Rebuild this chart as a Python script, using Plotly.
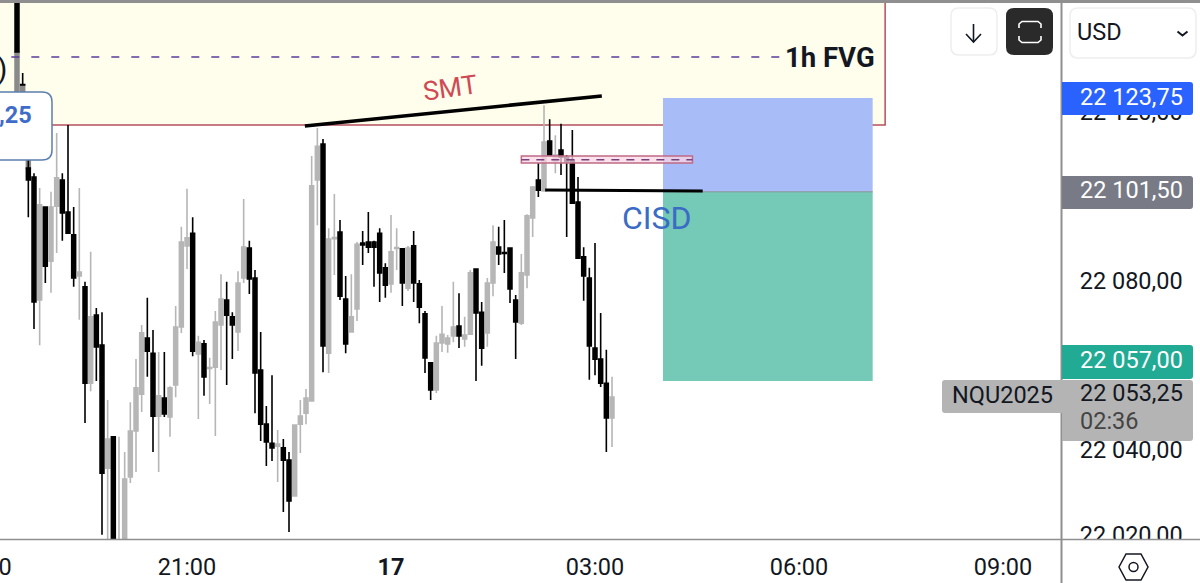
import pandas as pd
import plotly.graph_objects as go

W, H = 1200, 583
FONT = "Roboto"
BLACK = "#000000"
GRAY = "#b6b6b6"

# 5-minute candles, from 18:40 on 16 July to 03:15 on 17 July
times = pd.date_range("2025-07-16 18:40", periods=104, freq="5min")
opens = [22106.7,22104.6,22075.5,22097.5,22084.7,22097.7,22103.9,22096.3,22090.9,22081.2,
22078.6,22055.8,22071.9,22064.8,22035.7,22043.1,22014.0,22014.0,22033.6,22044.5,
22053.2,22066.5,22062.9,22048.0,22052.3,22047.8,22055.4,22069.1,22088.3,22091.3,
22062.7,22065.1,22059.3,22059.6,22069.6,22075.5,22071.5,22067.9,22080.7,22087.8,
22080.7,22058.9,22046.1,22041.6,22040.9,22040.5,22037.6,22029.1,22046.1,22048.7,
22051.6,22103.9,22112.4,22062.9,22090.0,22091.6,22075.7,22067.9,22073.4,22089.0,
22089.2,22089.2,22091.3,22083.1,22079.3,22087.7,22087.6,22078.3,22088.3,22079.3,
22072.2,22060.6,22054.2,22065.3,22065.1,22067.0,22069.3,22066.3,22067.4,22082.8,
22072.6,22067.7,22079.5,22088.0,22086.7,22087.8,22075.5,22070.0,22081.4,22094.9,
22103.9,22101.3,22113.1,22108.2,22111.0,22109.3,22108.6,22098.7,22085.7,22080.7,
22064.1,22061.5,22055.8,22047.6]
highs = [22108.6,22105.5,22102.0,22097.5,22101.1,22115.0,22105.5,22116.9,22097.5,22102.0,
22079.8,22086.9,22073.6,22072.6,22051.8,22043.1,22043.1,22039.5,22051.3,22061.5,
22069.6,22076.0,22068.4,22063.2,22063.2,22055.1,22074.1,22092.8,22101.8,22095.1,
22067.0,22066.0,22061.8,22072.9,22081.6,22079.8,22072.6,22082.3,22099.4,22089.5,
22082.6,22067.9,22050.4,22057.7,22044.7,22042.6,22039.5,22045.9,22051.8,22054.4,
22109.6,22116.2,22113.6,22092.5,22100.6,22094.4,22081.2,22081.6,22089.2,22091.8,
22096.3,22089.5,22092.5,22084.2,22095.6,22092.5,22087.6,22088.3,22091.8,22080.2,
22072.9,22060.6,22067.0,22074.1,22067.2,22079.8,22077.1,22071.5,22082.6,22082.8,
22075.0,22080.7,22093.2,22092.8,22094.4,22088.0,22076.7,22086.4,22095.8,22102.5,
22107.9,22121.6,22118.3,22114.5,22117.2,22109.8,22115.7,22104.6,22088.0,22083.1,
22089.0,22072.4,22063.7,22057.3]
lows = [22095.1,22068.6,22064.8,22079.5,22077.2,22086.6,22089.5,22091.3,22078.6,22070.8,
22046.4,22053.9,22056.3,22019.9,22017.5,22011.6,22011.6,22011.6,22032.2,22034.8,
22049.0,22057.3,22039.5,22034.8,22047.8,22043.1,22052.5,22067.7,22082.8,22062.2,
22047.3,22052.8,22050.9,22043.3,22058.9,22055.4,22061.5,22063.4,22079.5,22076.9,
22048.7,22042.1,22036.2,22037.4,22032.4,22025.3,22020.6,22029.1,22039.3,22046.1,
22051.6,22093.2,22058.4,22058.2,22081.4,22075.5,22062.9,22067.9,22070.5,22083.8,
22086.6,22078.6,22075.0,22076.0,22077.2,22082.6,22074.1,22077.6,22075.0,22070.0,
22058.2,22051.8,22053.5,22063.2,22063.0,22065.5,22064.1,22064.4,22067.4,22056.3,
22059.9,22064.4,22076.4,22083.8,22081.9,22074.8,22061.5,22069.6,22078.3,22090.4,
22099.9,22101.3,22109.8,22105.5,22105.1,22090.4,22098.2,22085.4,22075.3,22056.6,
22057.7,22054.9,22039.5,22040.7]
closes = [22103.9,22075.0,22098.0,22083.5,22097.5,22104.4,22096.1,22091.3,22080.7,22082.1,
22055.8,22071.5,22064.4,22034.5,22042.6,22014.0,22017.5,22033.1,22044.5,22054.7,
22067.7,22063.4,22048.0,22052.8,22048.5,22054.7,22069.1,22089.2,22090.2,22063.4,
22065.5,22057.3,22059.5,22070.3,22075.7,22071.9,22069.6,22079.5,22088.0,22080.5,
22058.2,22046.1,22041.9,22040.5,22041.4,22037.6,22027.9,22045.9,22048.0,22052.3,
22102.5,22111.9,22064.6,22089.9,22090.3,22076.4,22065.1,22071.5,22088.7,22088.5,
22088.0,22088.0,22081.9,22079.0,22086.9,22087.9,22079.5,22087.8,22079.5,22073.8,
22061.8,22054.2,22065.3,22067.4,22066.5,22069.1,22067.0,22067.2,22081.9,22072.4,
22064.1,22079.5,22089.2,22086.4,22086.5,22078.1,22070.3,22081.9,22095.4,22102.2,
22101.5,22112.9,22109.8,22109.8,22109.3,22108.2,22098.4,22085.4,22081.2,22064.6,
22061.5,22055.8,22047.6,22052.5]

# candles at the far left, mostly hidden by the price label
early_times = ["2025-07-16 18:30", "2025-07-16 18:35", "2025-07-16 18:40"]
early_open = [22116.9, 22118.1, 22106.7]
early_high = [22134.2, 22126.4, 22113.4]
early_low = [22116.9, 22118.1, 22106.7]
early_close = [22134.2, 22126.4, 22113.4]
spike_times = ["2025-07-16 18:30", "2025-07-16 18:35"]
spike_open = [22160.0, 22126.5]
spike_high = [22160.0, 22129.2]
spike_low = [22134.2, 22126.4]
spike_close = [22134.2, 22126.4]

y_ticks = [22020, 22040, 22060, 22080, 22100, 22120]
y_labels = ["22 020,00", "22 040,00", "22 060,00", "22 080,00", "22 100,00", "22 120,00"]
x_ticks = ["2025-07-16 18:19:30", "2025-07-16 21:00", "2025-07-17 00:00", "2025-07-17 03:00", "2025-07-17 06:00", "2025-07-17 09:00"]
x_labels = ["0", "21:00", "<b>17</b>", "03:00", "06:00", "09:00"]

fvg_low, fvg_high = 22116.9, 22170.0
fvg_mid = 22133.0
entry_top, entry_mid, entry_low = 22123.3, 22101.1, 22056.3
smt_price = (22116.7, 22123.8)
cisd_price = (22101.5, 22101.3)
ob_low, ob_high, ob_mid = 22107.9, 22109.6, 22108.7


def fx(x):
    return x / W


def fy(y):
    return 1 - y / H


def rrect(x0, y0, x1, y1, r=(8, 8, 8, 8)):
    tl, tr, br, bl = r
    return (f"M{fx(x0+tl)},{fy(y0)} L{fx(x1-tr)},{fy(y0)} Q{fx(x1)},{fy(y0)} {fx(x1)},{fy(y0+tr)} "
            f"L{fx(x1)},{fy(y1-br)} Q{fx(x1)},{fy(y1)} {fx(x1-br)},{fy(y1)} "
            f"L{fx(x0+bl)},{fy(y1)} Q{fx(x0)},{fy(y1)} {fx(x0)},{fy(y1-bl)} "
            f"L{fx(x0)},{fy(y0+tl)} Q{fx(x0)},{fy(y0)} {fx(x0+tl)},{fy(y0)} Z")


def chrome_path(d, fill="rgba(0,0,0,0)", line="rgba(0,0,0,0)", width=1):
    return dict(type="path", xref="paper", yref="paper", path=d, fillcolor=fill,
                line=dict(color=line, width=width), layer="above")


def chrome_line(x0, y0, x1, y1, color, width=2):
    return dict(type="line", xref="paper", yref="paper", x0=fx(x0), y0=fy(y0), x1=fx(x1), y1=fy(y1),
                line=dict(color=color, width=width), layer="above")


def poly(points):
    return "M" + " L".join(f"{fx(a)},{fy(b)}" for a, b in points)


def text(s, x, y, size=23.5, color="#131722", anchor="left", angle=0):
    return dict(text=s, x=fx(x), y=fy(y), xref="paper", yref="paper", showarrow=False,
                xanchor=anchor, yanchor="middle", textangle=angle, borderpad=0, borderwidth=0,
                font=dict(family=FONT, size=size, color=color))


def candle(name, x, o, h, l, c, up, down):
    return go.Candlestick(
        name=name, x=x, open=o, high=h, low=l, close=c, whiskerwidth=0,
        increasing=dict(line=dict(color=up, width=1.6), fillcolor=up),
        decreasing=dict(line=dict(color=down, width=1.6), fillcolor=down),
        hoverinfo="skip", showlegend=False,
    )


fig = go.Figure()
fig.add_trace(candle("early", early_times, early_open, early_high, early_low, early_close, "#8a8a8a", "#8a8a8a"))
fig.add_trace(candle("spike", spike_times, spike_open, spike_high, spike_low, spike_close, BLACK, BLACK))
fig.add_trace(candle("NQU2025", times, opens, highs, lows, closes, GRAY, BLACK))

shapes = [
    # drawings on the price chart
    dict(type="rect", x0="2025-07-16 17:00", x1="2025-07-17 07:16", y0=fvg_low, y1=fvg_high,
         fillcolor="#fffdec", line=dict(color="#b5505c", width=1.5), layer="below"),
    dict(type="line", x0="2025-07-16 18:25", x1="2025-07-17 05:53", y0=fvg_mid, y1=fvg_mid,
         line=dict(color="#5a3d9a", width=1.6, dash="8px,12px"), layer="above"),
    dict(type="rect", x0="2025-07-17 04:00", x1="2025-07-17 07:05", y0=entry_mid, y1=entry_top,
         fillcolor="#a8bdf8", line=dict(width=0), layer="above"),
    dict(type="rect", x0="2025-07-17 04:00", x1="2025-07-17 07:05", y0=entry_low, y1=entry_mid,
         fillcolor="#75c9b7", line=dict(width=0), layer="above"),
    dict(type="line", x0="2025-07-17 04:00", x1="2025-07-17 07:05", y0=entry_mid, y1=entry_mid,
         line=dict(color="#8a8f98", width=1), layer="above"),
    dict(type="line", x0="2025-07-16 22:44", x1="2025-07-17 03:06", y0=smt_price[0], y1=smt_price[1],
         line=dict(color=BLACK, width=3.5), layer="above"),
    dict(type="rect", x0="2025-07-17 01:55", x1="2025-07-17 04:26", y0=ob_low, y1=ob_high,
         fillcolor="rgba(250,215,225,0.75)", line=dict(color="#c06a86", width=1.5), layer="above"),
    dict(type="line", x0="2025-07-17 01:55", x1="2025-07-17 04:26", y0=ob_mid, y1=ob_mid,
         line=dict(color="#7a3f80", width=1.6, dash="8px,7px"), layer="above"),
    dict(type="line", x0="2025-07-17 02:16", x1="2025-07-17 04:35", y0=cisd_price[0], y1=cisd_price[1],
         line=dict(color=BLACK, width=3), layer="above"),
    # frame
    chrome_path(rrect(1062, 540, 1200, 583, (0, 0, 0, 0)), fill="#ffffff"),
    chrome_line(0, 1.5, 1200, 1.5, "#8f8f8f", 3),
    chrome_line(0, 539.5, 1200, 539.5, "#8f8f8f", 1.5),
    chrome_line(1061.5, 0, 1061.5, 583, "#8f8f8f", 2),
    # label at the left edge
    chrome_path(rrect(-20, 92, 52, 160, (10, 10, 10, 10)), fill="#ffffff", line="#5b7fae", width=1.5),
    # buttons
    chrome_path(rrect(951, 8, 997, 55, (8, 8, 8, 8)), fill="#ffffff", line="#eeeeee", width=1.5),
    chrome_line(973.5, 24, 973.5, 42, "#131722", 1.6),
    chrome_path(poly([(966, 34), (973.5, 42), (981, 34)]), line="#131722", width=1.6),
    chrome_path(rrect(1006, 8, 1053, 55, (8, 8, 8, 8)), fill="#2a2a2a"),
    chrome_path(poly([(1019, 28), (1019, 24), (1022, 21.5), (1038, 21.5), (1041, 24), (1041, 28)]),
                line="#ffffff", width=1.6),
    chrome_path(poly([(1019, 36), (1019, 40), (1022, 42.5), (1038, 42.5), (1041, 40), (1041, 36)]),
                line="#ffffff", width=1.6),
    chrome_path(rrect(1070, 8, 1196, 58, (8, 8, 8, 8)), fill="#ffffff", line="#eeeeee", width=1.5),
    chrome_path(poly([(1177.5, 31.5), (1182.5, 35.5), (1187.5, 31.5)]), line="#131722", width=2),
    # price tags
    chrome_path(rrect(1062, 82, 1193, 115, (0, 3, 3, 0)), fill="#2962ff"),
    chrome_path(rrect(1062, 176, 1193, 209, (0, 3, 3, 0)), fill="#787b86"),
    chrome_path(rrect(1062, 345, 1193, 379, (0, 3, 3, 0)), fill="#22ab94"),
    chrome_path(rrect(1062, 380, 1193, 441, (0, 3, 3, 0)), fill="#b4b4b4"),
    chrome_path(rrect(942, 380, 1062, 413, (3, 0, 0, 3)), fill="#b4b4b4"),
    # settings icon
    chrome_path(poly([(1119, 567), (1126, 554), (1141, 554), (1148, 567), (1141, 580), (1126, 580), (1119, 567)]) + " Z",
                line="#131722", width=1.5),
    dict(type="circle", xref="paper", yref="paper", x0=fx(1129), x1=fx(1138), y0=fy(571.5), y1=fy(562.5),
         line=dict(color="#131722", width=1.5), layer="above"),
]

annotations = [
    text("<b>1h FVG</b>", 785, 58, size=27.5, color="#131722"),
    text("SMT", 450, 88, size=26.5, color="#cf4a55", anchor="center", angle=-8),
    text("CISD", 657, 218, size=32, color="#3a6cc6", anchor="center"),
    text("<b>,25</b>", 32, 115, size=23.5, color="#3f6cc8", anchor="right"),
    text(")", 7, 69, size=30, color="#131722", anchor="right"),
    text("USD", 1077, 32),
    text("22 123,75", 1080, 96.5, color="#ffffff"),
    text("22 101,50", 1080, 190, color="#ffffff"),
    text("22 057,00", 1080, 360, color="#ffffff"),
    text("22 053,25", 1080, 393),
    text("02:36", 1080, 421, color="#444444"),
    text("NQU2025", 1002, 395, anchor="center"),
]

fig.update_layout(
    width=W, height=H, autosize=False,
    margin=dict(l=0, r=0, t=0, b=0, pad=0),
    paper_bgcolor="#ffffff", plot_bgcolor="#ffffff",
    font=dict(family=FONT, size=23.5, color="#131722"),
    showlegend=False, boxgap=0.02,
    shapes=shapes, annotations=annotations,
    xaxis=dict(
        domain=[0, 1061 / W], type="date", automargin=False, ticklabeloverflow="allow",
        range=["2025-07-16 18:15:00", "2025-07-17 09:51:10"],
        rangeslider=dict(visible=False),
        tickmode="array", tickvals=x_ticks, ticktext=x_labels,
        ticks="outside", ticklen=7, tickcolor="rgba(0,0,0,0)",
        showgrid=False, zeroline=False, showline=False,
        tickfont=dict(family=FONT, size=23.5, color="#131722"), fixedrange=True,
    ),
    yaxis=dict(
        domain=[1 - 539 / H, 1 - 3 / H], side="right", automargin=False, ticklabeloverflow="allow",
        range=[22018.92, 22145.79],
        tickmode="array", tickvals=y_ticks, ticktext=y_labels,
        ticks="outside", ticklen=13, tickcolor="rgba(0,0,0,0)",
        showgrid=False, zeroline=False, showline=False,
        tickfont=dict(family=FONT, size=23.5, color="#131722"), fixedrange=True,
    ),
)

fig.write_html("out.html", config=dict(displayModeBar=False, responsive=False),
               default_width="1200px", default_height="583px",
               post_script="document.body.style.margin='0';document.body.style.overflow='hidden';")
